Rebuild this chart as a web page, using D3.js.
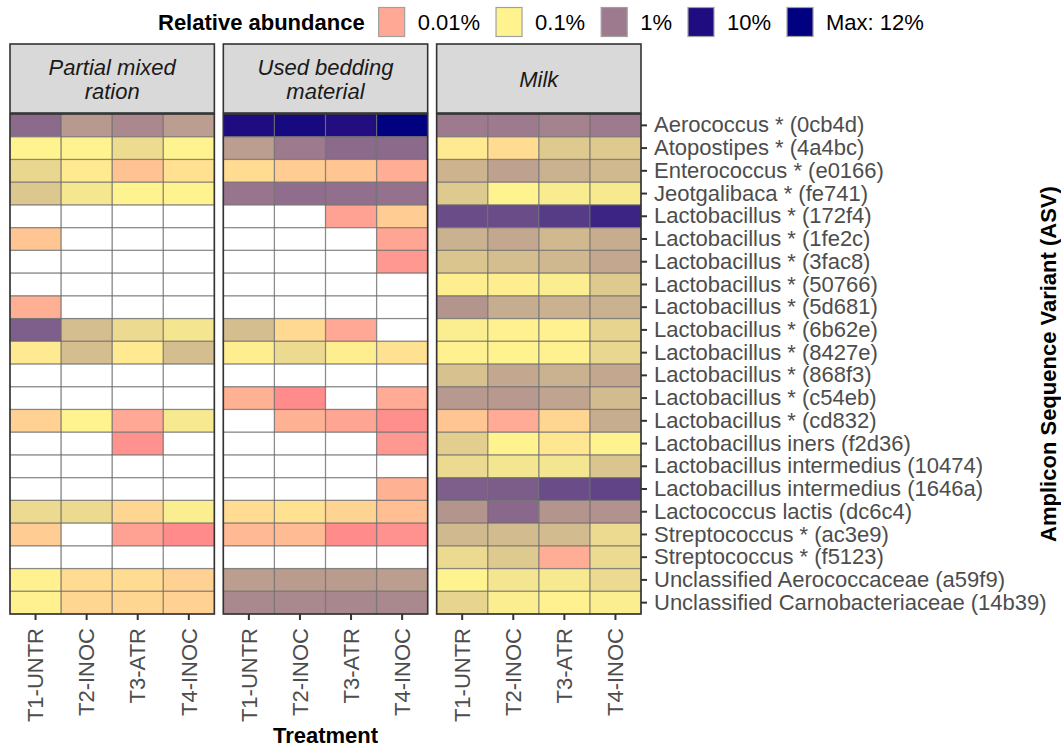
<!DOCTYPE html>
<html>
<head>
<meta charset="utf-8">
<script src="https://cdn.jsdelivr.net/npm/d3@7"></script>
<style>
    body { margin: 0; background: #fff; }
    svg { display: block; font-family: 'Liberation Sans', Arial, sans-serif; }
</style>
</head>
<body>
<div id="chart"></div>
<script>
const facets = ['Partial mixed ration', 'Used bedding material', 'Milk'];
const stripLabels = [['Partial mixed', 'ration'], ['Used bedding', 'material'], ['Milk']];
const treatments = ['T1-UNTR', 'T2-INOC', 'T3-ATR', 'T4-INOC'];
const asvs = [
    'Aerococcus * (0cb4d)', 'Atopostipes * (4a4bc)', 'Enterococcus * (e0166)',
    'Jeotgalibaca * (fe741)', 'Lactobacillus * (172f4)', 'Lactobacillus * (1fe2c)',
    'Lactobacillus * (3fac8)', 'Lactobacillus * (50766)', 'Lactobacillus * (5d681)',
    'Lactobacillus * (6b62e)', 'Lactobacillus * (8427e)', 'Lactobacillus * (868f3)',
    'Lactobacillus * (c54eb)', 'Lactobacillus * (cd832)', 'Lactobacillus iners (f2d36)',
    'Lactobacillus intermedius (10474)', 'Lactobacillus intermedius (1646a)',
    'Lactococcus lactis (dc6c4)', 'Streptococcus * (ac3e9)', 'Streptococcus * (f5123)',
    'Unclassified Aerococcaceae (a59f9)', 'Unclassified Carnobacteriaceae (14b39)'
];

// relative abundance (%), one row per ASV, one column per treatment; null = not detected
const rationValues = [
    [1.4, 0.55, 0.76, 0.5],
    [0.1, 0.1, 0.155, 0.1],
    [0.17, 0.074, 0.022, 0.057],
    [0.23, 0.126, 0.1, 0.1],
    [null, null, null, null],
    [0.025, null, null, null],
    [null, null, null, null],
    [null, null, null, null],
    [0.0126, null, null, null],
    [1.8, 0.28, 0.16, 0.13],
    [0.075, 0.28, 0.075, 0.28],
    [null, null, null, null],
    [null, null, null, null],
    [0.035, 0.1, 0.01, 0.12],
    [null, null, 0.005, null],
    [null, null, null, null],
    [null, null, null, null],
    [0.16, 0.16, 0.04, 0.11],
    [0.03, null, 0.008, 0.004],
    [null, null, null, null],
    [0.095, 0.05, 0.05, 0.035],
    [0.09, 0.04, 0.04, 0.035]
];
const beddingValues = [
    [10, 10.5, 9.5, 12],
    [0.5, 1.0, 1.4, 1.4],
    [0.05, 0.03, 0.025, 0.012],
    [1.1, 1.3, 1.25, 1.2],
    [null, null, 0.008, 0.03],
    [null, null, null, 0.009],
    [null, null, null, 0.006],
    [null, null, null, null],
    [null, null, null, null],
    [0.28, 0.045, 0.01, null],
    [0.085, 0.16, 0.085, 0.06],
    [null, null, null, null],
    [0.013, 0.004, null, 0.011],
    [null, 0.013, 0.009, 0.0045],
    [null, null, null, 0.006],
    [null, null, null, null],
    [null, null, null, 0.013],
    [0.05, 0.06, 0.038, 0.02],
    [0.017, 0.018, 0.004, 0.005],
    [null, null, null, null],
    [0.5, 0.52, 0.52, 0.5],
    [0.75, 0.75, 0.78, 0.75]
];
const milkValues = [
    [1.0, 1.0, 0.85, 1.0],
    [0.075, 0.05, 0.22, 0.22],
    [0.33, 0.47, 0.35, 0.3],
    [0.22, 0.1, 0.115, 0.12],
    [2.6, 2.6, 3.7, 6.0],
    [0.35, 0.42, 0.3, 0.38],
    [0.24, 0.28, 0.31, 0.42],
    [0.085, 0.085, 0.11, 0.22],
    [0.6, 0.38, 0.35, 0.35],
    [0.11, 0.095, 0.095, 0.18],
    [0.095, 0.1, 0.095, 0.17],
    [0.26, 0.42, 0.35, 0.42],
    [0.55, 0.55, 0.45, 0.29],
    [0.025, 0.011, 0.04, 0.38],
    [0.2, 0.1, 0.07, 0.1],
    [0.16, 0.13, 0.13, 0.24],
    [1.8, 1.85, 2.6, 3.1],
    [0.6, 1.45, 0.6, 0.63],
    [0.3, 0.29, 0.29, 0.16],
    [0.16, 0.22, 0.012, 0.16],
    [0.1, 0.13, 0.12, 0.16],
    [0.18, 0.11, 0.095, 0.11]
];

const legendBreaks = [0.01, 0.1, 1, 10, 12];
const legendLabels = ['0.01%', '0.1%', '1%', '10%', 'Max: 12%'];

const config = {
    width: 1061,
    height: 748,
    plotLeft: 10,
    plotRight: 641,
    plotTop: 114,
    plotBottom: 614,
    stripTop: 44,
    fontSize: 22
};

const color = d3.scaleLinear()
    .domain([-2.5, -2, -1, 0, 1, Math.log10(12)])
    .range(['#ff8489', '#ffa895', '#fff390', '#9e7a8e', '#1f0c80', '#000080'])
    .clamp(true);
const fill = v => v == null ? '#ffffff' : color(Math.log10(v));

const cells = [];
[rationValues, beddingValues, milkValues].forEach((rows, f) => {
    rows.forEach((row, i) => row.forEach((value, j) => {
        cells.push({ facet: facets[f], asv: asvs[i], treatment: treatments[j], value });
    }));
});

const xFacet = d3.scaleBand()
    .domain(facets)
    .range([config.plotLeft, config.plotRight])
    .paddingInner(0.042);
const x = d3.scaleBand()
    .domain(treatments)
    .range([0, xFacet.bandwidth()]);
const y = d3.scaleBand()
    .domain(asvs)
    .range([config.plotTop, config.plotBottom]);

const svg = d3.select('#chart').append('svg')
    .attr('width', config.width)
    .attr('height', config.height);

const panels = svg.selectAll('g.panel')
        .data(facets)
    .enter().append('g')
        .attr('class', 'panel')
        .attr('transform', d => 'translate(' + xFacet(d) + ',0)');

// tiles
panels.selectAll('rect.tile')
        .data(f => cells.filter(c => c.facet === f))
    .enter().append('rect')
        .attr('class', 'tile')
        .attr('x', d => x(d.treatment))
        .attr('y', d => y(d.asv))
        .attr('width', x.bandwidth())
        .attr('height', y.bandwidth())
        .attr('fill', d => fill(d.value));

// tile outlines, semi transparent so they darken over colour
panels.selectAll('rect.outline')
        .data(f => cells.filter(c => c.facet === f))
    .enter().append('rect')
        .attr('class', 'outline')
        .attr('x', d => x(d.treatment))
        .attr('y', d => y(d.asv))
        .attr('width', x.bandwidth())
        .attr('height', y.bandwidth())
        .attr('fill', 'none')
        .attr('stroke', '#6e6e6e')
        .attr('stroke-opacity', 0.55)
        .attr('stroke-width', 1.2);

// panel border
panels.append('rect')
    .attr('x', 0)
    .attr('y', config.plotTop)
    .attr('width', xFacet.bandwidth())
    .attr('height', config.plotBottom - config.plotTop)
    .attr('fill', 'none')
    .attr('stroke', '#333')
    .attr('stroke-width', 1.6);

// strips
panels.append('rect')
    .attr('x', 0)
    .attr('y', config.stripTop)
    .attr('width', xFacet.bandwidth())
    .attr('height', config.plotTop - config.stripTop - 1)
    .attr('fill', '#d9d9d9')
    .attr('stroke', '#333')
    .attr('stroke-width', 1.6);

panels.append('text')
    .attr('x', xFacet.bandwidth() / 2)
    .attr('text-anchor', 'middle')
    .attr('font-size', config.fontSize)
    .attr('font-style', 'italic')
    .attr('fill', '#1a1a1a')
    .each(function(f, i) {
        const lines = stripLabels[i];
        const mid = (config.stripTop + config.plotTop) / 2;
        d3.select(this).selectAll('tspan')
                .data(lines)
            .enter().append('tspan')
                .attr('x', xFacet.bandwidth() / 2)
                .attr('y', (d, k) => mid + (k - (lines.length - 1) / 2) * 24)
                .attr('dy', '0.35em')
                .text(d => d);
    });

// x axis per panel
panels.append('g')
    .attr('transform', 'translate(0,' + config.plotBottom + ')')
    .call(d3.axisBottom(x).tickSize(6).tickPadding(0))
    .call(g => g.select('.domain').remove())
    .call(g => g.selectAll('.tick line').attr('stroke', '#333').attr('stroke-width', 2))
    .call(g => g.selectAll('.tick text')
        .attr('font-size', config.fontSize)
        .attr('font-family', null)
        .attr('fill', '#4d4d4d')
        .attr('text-anchor', 'end')
        .attr('transform', 'rotate(-90)')
        .attr('x', -14)
        .attr('y', 0)
        .attr('dy', '0.35em'));

// y axis on the right of the last panel
svg.append('g')
    .attr('transform', 'translate(' + config.plotRight + ',0)')
    .call(d3.axisRight(y).tickSize(6).tickPadding(7))
    .call(g => g.select('.domain').remove())
    .call(g => g.selectAll('.tick line').attr('stroke', '#333').attr('stroke-width', 2))
    .call(g => g.selectAll('.tick text')
        .attr('font-size', config.fontSize)
        .attr('font-family', null)
        .attr('fill', '#4d4d4d'));

// axis titles
svg.append('text')
    .attr('x', (config.plotLeft + config.plotRight) / 2)
    .attr('y', 735)
    .attr('dy', '0.35em')
    .attr('text-anchor', 'middle')
    .attr('font-size', config.fontSize)
    .attr('font-weight', 'bold')
    .text('Treatment');

svg.append('text')
    .attr('transform', 'translate(1048,' + (config.plotTop + config.plotBottom) / 2 + ') rotate(-90)')
    .attr('dy', '0.35em')
    .attr('text-anchor', 'middle')
    .attr('font-size', config.fontSize)
    .attr('font-weight', 'bold')
    .text('Amplicon Sequence Variant (ASV)');

// legend, laid out left to right
const legend = svg.append('g').attr('transform', 'translate(0,22)');
let cursor = 158;
const title = legend.append('text')
    .attr('x', cursor)
    .attr('dy', '0.35em')
    .attr('font-size', config.fontSize)
    .attr('font-weight', 'bold')
    .text('Relative abundance');
cursor += title.node().getComputedTextLength() + 14;

legendBreaks.forEach((b, i) => {
    legend.append('rect')
        .attr('x', cursor)
        .attr('y', -14.5)
        .attr('width', 26)
        .attr('height', 29)
        .attr('fill', fill(b))
        .attr('stroke', '#a0a0a0')
        .attr('stroke-width', 1.2);
    cursor += 26 + 13;
    const label = legend.append('text')
        .attr('x', cursor)
        .attr('dy', '0.35em')
        .attr('font-size', config.fontSize)
        .text(legendLabels[i]);
    cursor += label.node().getComputedTextLength() + 16;
});
</script>
</body>
</html>
